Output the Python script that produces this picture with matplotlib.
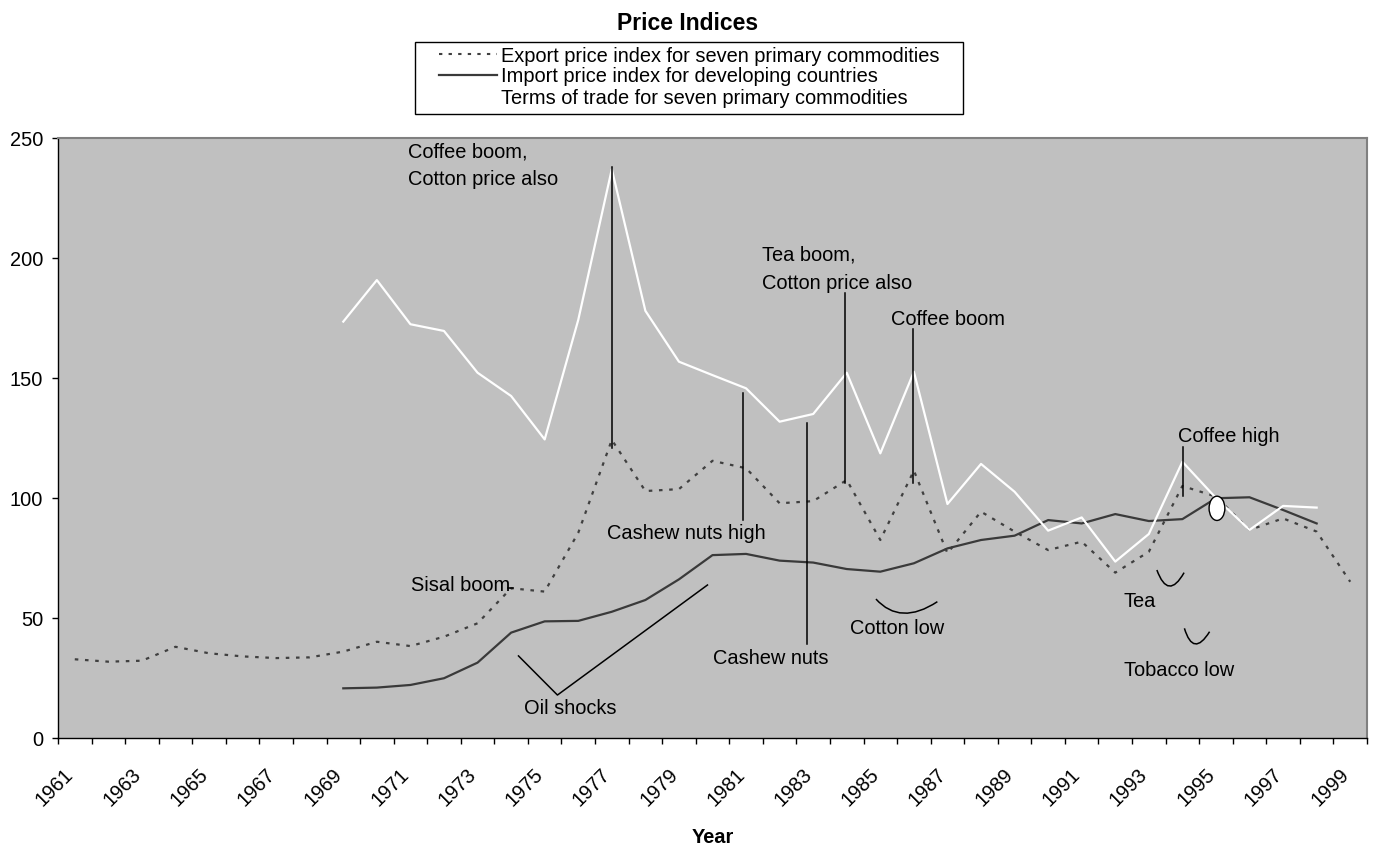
import numpy as np
import matplotlib
matplotlib.use("Agg")
import matplotlib.pyplot as plt
from matplotlib.lines import Line2D
from matplotlib.patches import Rectangle, Ellipse, PathPatch
from matplotlib.path import Path
import matplotlib.transforms as mtransforms

plt.rcParams["font.family"] = ["Liberation Sans", "DejaVu Sans"]

# --- data ---
years = list(range(1961, 2000))

export_idx = [32.8, 31.8, 32.2, 38.0, 35.3, 34.0, 33.3, 33.6, 36.0, 40.1,
              38.3, 42.2, 47.8, 62.4, 61.0, 85.5, 124.2, 102.9, 103.7, 115.5,
              112.4, 97.8, 98.7, 107.5, 82.5, 111.4, 77.0, 94.3, 86.0, 78.3,
              81.8, 68.9, 77.6, 105.0, 100.6, 86.7, 91.5, 86.0, 65.1]

import_idx = [None] * 8 + [
    20.7, 21.0, 22.1, 24.9, 31.4, 43.9, 48.6, 48.8, 52.6, 57.5,
    66.1, 76.2, 76.7, 73.9, 73.1, 70.4, 69.3, 72.8, 79.0, 82.5,
    84.3, 90.8, 89.4, 93.3, 90.4, 91.2, 99.9, 100.3, 95.0, 89.4] + [None]

terms_trade = [None] * 8 + [
    173.5, 190.8, 172.4, 169.6, 152.2, 142.5, 124.4, 174.2, 237.0, 178.0,
    156.8, 151.2, 145.7, 131.8, 135.0, 152.2, 118.6, 152.6, 97.5, 114.2,
    102.6, 86.4, 91.9, 73.5, 85.0, 115.1, 100.0, 86.7, 96.7, 96.0] + [None]

series_labels = ["Export price index for seven primary commodities",
                 "Import price index for developing countries",
                 "Terms of trade for seven primary commodities"]

# annotations: (category position, value)
notes = [
    ("Coffee boom,", 9.93, 244.3), ("Cotton price also", 9.93, 232.8),
    ("Tea boom,", 20.47, 201.2), ("Cotton price also", 20.47, 189.5),
    ("Coffee boom", 24.31, 174.2),
    ("Cashew nuts high", 15.85, 85.3),
    ("Cashew nuts", 19.01, 33.2),
    ("Sisal boom", 10.02, 63.7),
    ("Oil shocks", 13.39, 12.4),
    ("Cotton low", 23.10, 45.7),
    ("Tea", 31.26, 56.8),
    ("Tobacco low", 31.26, 28.3),
    ("Coffee high", 32.86, 125.8),
]
pointer_lines = [
    ([16.0, 16.0], [238.0, 120.7]),
    ([22.95, 22.95], [185.5, 106.1]),
    ([24.97, 24.97], [170.3, 106.1]),
    ([19.92, 19.92], [143.6, 90.8]),
    ([21.83, 21.83], [131.1, 39.2]),
    ([33.03, 33.03], [121.1, 100.8]),
    ([12.91, 13.05], [62.4, 62.4]),
    ([13.22, 14.38, 18.85], [34.2, 17.9, 63.75]),
]
pointer_curves = [
    [(23.87, 57.9), (24.69, 52.0), (25.70, 56.8)],
    [(32.24, 70.0), (32.61, 63.3), (33.05, 68.9)],
    [(33.06, 45.7), (33.38, 39.2), (33.81, 44.3)],
]
crossing_mark = (34.03, 95.7)

W, H = 1375, 846
fig = plt.figure(figsize=(W / 100, H / 100), dpi=100)
ax = fig.add_axes([58 / W, 1 - 738 / H, (1367 - 58) / W, 600 / H])
ax.set_facecolor("#c0c0c0")

x = np.arange(len(years))
exp_y = np.array(export_idx, dtype=float)
imp_y = np.array([np.nan if v is None else v for v in import_idx])
tot_y = np.array([np.nan if v is None else v for v in terms_trade])

ax.plot(x, exp_y, color="#404040", lw=1.6, ls=(0, (1.6, 3.0)), zorder=3)
ax.plot(x, imp_y, color="#3a3a3a", lw=1.6, zorder=3)
ax.plot(x, tot_y, color="white", lw=1.6, zorder=4)

for xs, ys in pointer_lines:
    ax.plot(xs, ys, color="black", lw=1.1, zorder=5)
for p0, pm, p2 in pointer_curves:
    ctrl = (2 * pm[0] - (p0[0] + p2[0]) / 2, 2 * pm[1] - (p0[1] + p2[1]) / 2)
    path = Path([p0, ctrl, p2], [Path.MOVETO, Path.CURVE3, Path.CURVE3])
    ax.add_patch(PathPatch(path, fill=False, edgecolor="black", lw=1.1, zorder=5))
ax.add_patch(Ellipse(crossing_mark, 0.47, 10.1, facecolor="white",
                     edgecolor="black", lw=1.0, zorder=6))
for txt, tx, ty in notes:
    ax.text(tx, ty, txt, fontsize=14.4, ha="left", va="center", zorder=7)

# axes
ax.set_xlim(-0.5, len(years) - 0.5)
ax.set_ylim(0, 250)
ax.set_yticks(range(0, 251, 50))
ax.tick_params(axis="y", length=4.3, width=1, pad=6.5, labelsize=14.4, direction="out")
ax.set_xticks(x[::2])
ax.set_xticklabels([str(y) for y in years[::2]])
ax.set_xticks(np.arange(-0.5, len(years), 1), minor=True)
ax.tick_params(axis="x", which="major", length=0, pad=19.5, labelsize=14.4)
ax.tick_params(axis="x", which="minor", length=4.3, width=1, direction="out")
shift = mtransforms.ScaledTranslation(-11 / 100, 0, fig.dpi_scale_trans)
for lab in ax.get_xticklabels():
    lab.set_rotation(45)
    lab.set_ha("right")
    lab.set_va("top")
    lab.set_rotation_mode("anchor")
    lab.set_transform(lab.get_transform() + shift)

for s in ["left", "bottom"]:
    ax.spines[s].set_color("black")
    ax.spines[s].set_linewidth(1.0)
for s in ["top", "right"]:
    ax.spines[s].set_color("#808080")
    ax.spines[s].set_linewidth(1.5)

fig.text(0.5, 1 - 23 / H, "Price Indices", ha="center", va="center",
         fontsize=16.5, fontweight="bold")
fig.text((58 + 1367) / 2 / W, 1 - 837 / H, "Year", ha="center", va="center",
         fontsize=14.4, fontweight="bold")

# legend
fig.patches.append(Rectangle((415 / W, 1 - 114 / H), 548 / W, 72 / H,
                             transform=fig.transFigure, facecolor="white",
                             edgecolor="black", lw=1.0))
handles = [Line2D([], [], color="#404040", lw=1.5, ls=(0, (1.6, 3.0))),
           Line2D([], [], color="#3a3a3a", lw=1.6),
           Line2D([], [], color="white", lw=1.6)]
fig.legend(handles, series_labels, loc="center",
           bbox_to_anchor=(689 / W, 1 - 77 / H), frameon=False,
           fontsize=14.4, handlelength=2.9, handletextpad=0.2,
           labelspacing=0.1, borderpad=0.0)

fig.savefig("out.png", dpi=100)
